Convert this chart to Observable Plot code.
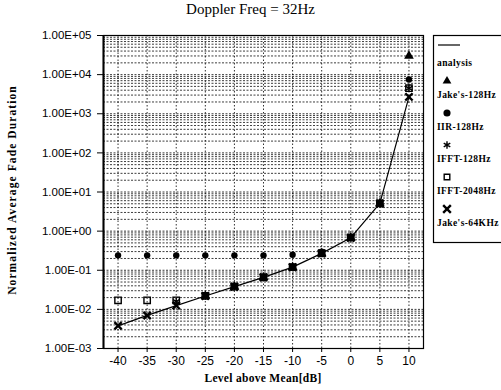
<!DOCTYPE html>
<html>
<head>
<meta charset="utf-8">
<script src="https://cdn.jsdelivr.net/npm/d3@7"></script>
<script src="https://cdn.jsdelivr.net/npm/@observablehq/plot@0.6"></script>
<style>
  html, body { margin: 0; padding: 0; background: #fff; }
  #wrap { position: relative; width: 501px; height: 390px; overflow: hidden; background: #fff; }
  #wrap svg { position: absolute; left: 0; top: 0; }
  .title { position: absolute; left: 0; width: 501px; top: 1px; text-align: center;
           font-family: "Liberation Serif", serif; font-size: 15px; color: #000; }
  .xlab { position: absolute; left: 103px; width: 320px; top: 372px; text-align: center;
          font-family: "Liberation Serif", serif; font-weight: bold; font-size: 11.5px; letter-spacing: 0.3px; }
  .ylab { position: absolute; left: 12px; top: 190px; white-space: nowrap;
          transform: translate(-50%, -50%) rotate(-90deg);
          font-family: "Liberation Serif", serif; font-weight: bold; font-size: 11.5px; letter-spacing: 1.1px; }
  g[aria-label^="x-axis"] text { font-size: 12px; }
  g[aria-label^="y-axis"] text { font-size: 11.5px; }
</style>
</head>
<body>
<div id="wrap">
  <div class="title">Doppler Freq = 32Hz</div>
  <div class="xlab">Level above Mean[dB]</div>
  <div class="ylab">Normalized Average Fade Duration</div>
</div>
<script>
// Signal level relative to the mean (dB)
const levels = [-40, -35, -30, -25, -20, -15, -10, -5, 0, 5, 10];

// Normalized average fade duration for each model
const analysis   = [0.0038, 0.0070, 0.0125, 0.022, 0.038, 0.066, 0.12, 0.27, 0.68, 5.1, 2700];
const jakes128   = [null, null, null, 0.022, 0.038, 0.066, 0.12, 0.27, 0.68, 5.1, 30000];
const iir128     = [0.24, 0.24, 0.24, 0.24, 0.24, 0.24, 0.25, 0.30, 0.68, 5.1, 7500];
const ifft128    = [null, null, 0.016, 0.022, 0.038, 0.066, 0.12, 0.27, 0.68, 5.1, 4500];
const ifft2048   = [0.017, 0.017, 0.017, 0.022, 0.038, 0.066, 0.12, 0.27, 0.68, 5.1, 4500];
const jakes64k   = [0.0038, 0.0070, 0.0125, 0.022, 0.038, 0.066, 0.12, 0.27, 0.68, 5.1, 2700];

const xTicks = [-40, -35, -30, -25, -20, -15, -10, -5, 0, 5, 10];
const yTicks = [1e-3, 1e-2, 1e-1, 1e0, 1e1, 1e2, 1e3, 1e4, 1e5];

// series name, values, symbol, and whether the symbol is filled
const series = [
  {name: "Jake's-128Hz", values: jakes128, symbol: "triangle", filled: true},
  {name: "IIR-128Hz",    values: iir128,   symbol: "circle",   filled: true},
  {name: "IFFT-128Hz",   values: ifft128,  symbol: "asterisk", filled: false},
  {name: "IFFT-2048Hz",  values: ifft2048, symbol: "square",   filled: false},
  {name: "Jake's-64KHz", values: jakes64k, symbol: "times",    filled: false}
];

const rows = (vals) => levels.map((x, i) => ({x, y: vals[i]})).filter(d => d.y != null);

// "1.00E+05" style labels
const sci = d => {
  const [m, e] = d.toExponential(2).split("e");
  const sign = e[0] === "-" ? "-" : "+";
  return m.toUpperCase() + "E" + sign + e.replace(/[+-]/, "").padStart(2, "0");
};

// every 1..9 step of each decade for the dotted grid
const minor = d3.scaleLog().domain([1e-3, 1e5]).ticks();

const sizes = {triangle: 3.6, circle: 3.2, asterisk: 3.5, square: 3.6, times: 3.4};
const dotMarks = series.map(s => Plot.dot(rows(s.values), {
  x: "x", y: "y", symbol: s.symbol, r: sizes[s.symbol],
  fill: s.filled ? "black" : "none",
  stroke: s.filled ? "none" : "black",
  strokeWidth: s.symbol === "times" ? 2.4 : 1.4
}));

const chart = Plot.plot({
  width: 501, height: 390,
  marginLeft: 103, marginRight: 78, marginTop: 35, marginBottom: 42,
  style: {fontFamily: "'Liberation Sans', Arial, sans-serif", fontSize: "10px", background: "transparent", color: "black"},
  x: {domain: [-42.5, 12.5], ticks: xTicks, tickFormat: d => String(d), label: null, tickSize: 4, tickPadding: 4},
  y: {type: "log", domain: [1e-3, 1e5], ticks: yTicks, tickFormat: sci, label: null, tickSize: 6, tickPadding: 6},
  marks: [
    Plot.ruleY(minor, {stroke: "black", strokeWidth: 0.9, strokeDasharray: "2,1.5", strokeOpacity: 0.85}),
    Plot.ruleX(xTicks, {stroke: "black", strokeWidth: 0.9, strokeDasharray: "1.5,2", strokeOpacity: 0.9}),
    Plot.frame({stroke: "black", strokeWidth: 1.2}),
    Plot.ruleX([-42.5], {stroke: "black", strokeWidth: 2}),
    Plot.line(rows(analysis), {x: "x", y: "y", stroke: "black", strokeWidth: 1.2}),
    ...dotMarks
  ]
});
document.getElementById("wrap").appendChild(chart);

// legend box on the right
const lg = d3.select("#wrap").append("svg")
  .attr("width", 501).attr("height", 390)
  .style("pointer-events", "none");
lg.append("rect").attr("x", 433.5).attr("y", 35.5).attr("width", 90).attr("height", 207)
  .attr("fill", "white").attr("stroke", "black").attr("stroke-width", 1.2);
lg.append("line").attr("x1", 438).attr("x2", 460).attr("y1", 45).attr("y2", 45)
  .attr("stroke", "black").attr("stroke-width", 1.2);
const legText = (t, y) => lg.append("text").attr("x", 437).attr("y", y).text(t)
  .attr("font-family", "'Liberation Serif', serif").attr("font-weight", "bold")
  .attr("font-size", 9.5).attr("letter-spacing", 0.4).attr("fill", "black");
legText("analysis", 66);
const symMap = {triangle: d3.symbolTriangle2, circle: d3.symbolCircle, asterisk: d3.symbolAsterisk,
                square: d3.symbolSquare2, times: d3.symbolTimes};
series.forEach((s, i) => {
  const yc = 81 + i * 32;
  lg.append("path")
    .attr("transform", `translate(447,${yc})`)
    .attr("d", d3.symbol(symMap[s.symbol], s.symbol === "triangle" ? 55 : 40)())
    .attr("fill", s.filled ? "black" : "none")
    .attr("stroke", s.filled ? "none" : "black")
    .attr("stroke-width", s.symbol === "times" ? 2.4 : 1.4);
  legText(s.name, yc + 17);
});
</script>
</body>
</html>
